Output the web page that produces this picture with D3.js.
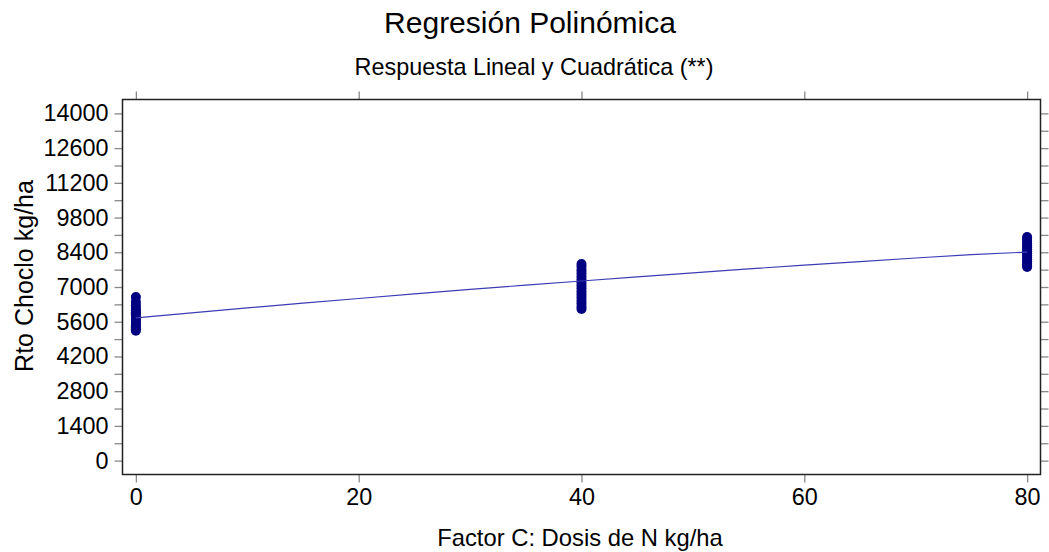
<!DOCTYPE html>
<html><head><meta charset="utf-8">
<script src="https://cdn.jsdelivr.net/npm/d3@7"></script>
<style>body{margin:0;background:#fff}svg{display:block;font-family:Arial,"Liberation Sans",sans-serif}</style>
</head><body>
<svg id="c" width="1049" height="552"></svg>
<script>
const title = "Regresión Polinómica";
const subtitle = "Respuesta Lineal y Cuadrática (**)";
const xLabel = "Factor C: Dosis de N kg/ha";
const yLabel = "Rto Choclo kg/ha";
const xTicks = [0, 20, 40, 60, 80];
const yTicks = [0, 1400, 2800, 4200, 5600, 7000, 8400, 9800, 11200, 12600, 14000];
const doses = [0, 40, 80];
const yield0 = [5240, 5300, 5380, 5450, 5520, 5600, 5680, 5750, 5830, 5900, 5980, 6060, 6150, 6260, 6400, 6600];
const yield40 = [6115, 6200, 6330, 6450, 6580, 6700, 6820, 6950, 7060, 7180, 7300, 7420, 7550, 7680, 7820, 7926];
const yield80 = [7805, 7870, 7940, 8030, 8120, 8200, 8280, 8360, 8440, 8520, 8600, 8680, 8760, 8850, 8950, 9012];
const fitX = [0, 5, 10, 15, 20, 25, 30, 35, 40, 45, 50, 55, 60, 65, 70, 75, 80];
const fitY = [5753, 5956, 6155, 6349, 6537, 6722, 6901, 7076, 7241, 7412, 7573, 7729, 7880, 8027, 8169, 8306, 8408];

const svg = d3.select("#c");
const L = 122.5, R = 1040.5, T = 99.5, B = 474.5;
const x = d3.scaleLinear().domain([-1.2, 81.2]).range([L, R]);
const y = d3.scaleLinear().domain([-560, 14560]).range([B, T]);
const FF = "Arial,'Liberation Sans',sans-serif";

svg.append("text").attr("x", 530).attr("y", 33).attr("text-anchor", "middle")
  .attr("font-size", 30).attr("fill", "#000").text(title);
svg.append("text").attr("x", 534).attr("y", 75).attr("text-anchor", "middle")
  .attr("font-size", 23.4).attr("fill", "#000").text(subtitle);

const tickCol = "#888";
const yMinor = d3.range(700, 14000, 1400);
const gL = svg.append("g").attr("transform", `translate(${L},0)`)
  .call(d3.axisLeft(y).tickValues(yTicks).tickSize(8).tickPadding(6).tickFormat(d3.format("d")));
gL.select(".domain").remove();
gL.selectAll("line").attr("stroke", tickCol).attr("stroke-width", 1.3);
gL.selectAll("text").attr("font-size", 23.4).attr("fill", "#000").attr("font-family", FF);
const gLm = svg.append("g").attr("transform", `translate(${L},0)`)
  .call(d3.axisLeft(y).tickValues(yMinor).tickSize(8).tickFormat(""));
gLm.select(".domain").remove();
gLm.selectAll("line").attr("stroke", tickCol).attr("stroke-width", 1.3);
const gR = svg.append("g").attr("transform", `translate(${R},0)`)
  .call(d3.axisRight(y).tickValues(yTicks.concat(yMinor)).tickSize(8).tickFormat(""));
gR.select(".domain").remove();
gR.selectAll("line").attr("stroke", tickCol).attr("stroke-width", 1.3);
const gB = svg.append("g").attr("transform", `translate(0,${B})`)
  .call(d3.axisBottom(x).tickValues(xTicks).tickSize(8).tickPadding(6));
gB.select(".domain").remove();
gB.selectAll("line").attr("stroke", tickCol).attr("stroke-width", 1.3);
gB.selectAll("text").attr("font-size", 23.4).attr("fill", "#000").attr("font-family", FF);
const gT = svg.append("g").attr("transform", `translate(0,${T})`)
  .call(d3.axisTop(x).tickValues(xTicks).tickSize(8).tickFormat(""));
gT.select(".domain").remove();
gT.selectAll("line").attr("stroke", tickCol).attr("stroke-width", 1.3);

svg.append("rect").attr("x", L).attr("y", T).attr("width", R - L).attr("height", B - T)
  .attr("fill", "none").attr("stroke", "#222").attr("stroke-width", 1.5);

const pts = [];
[yield0, yield40, yield80].forEach((arr, i) => arr.forEach(v => pts.push({d: doses[i], v})));
svg.append("g").selectAll("circle").data(pts).join("circle")
  .attr("cx", d => x(d.d)).attr("cy", d => y(d.v)).attr("r", 5).attr("fill", "#000080");

svg.append("path").datum(fitX.map((d, i) => [d, fitY[i]]))
  .attr("d", d3.line().x(d => x(d[0])).y(d => y(d[1])))
  .attr("fill", "none").attr("stroke", "#3c3cb4").attr("stroke-width", 1.2);

svg.append("text").attr("x", 580).attr("y", 546).attr("text-anchor", "middle")
  .attr("font-size", 23.8).attr("fill", "#000").text(xLabel);
svg.append("text").attr("transform", "translate(33,276) rotate(-90)").attr("text-anchor", "middle")
  .attr("font-size", 25).attr("fill", "#000").text(yLabel);
</script>
</body></html>
